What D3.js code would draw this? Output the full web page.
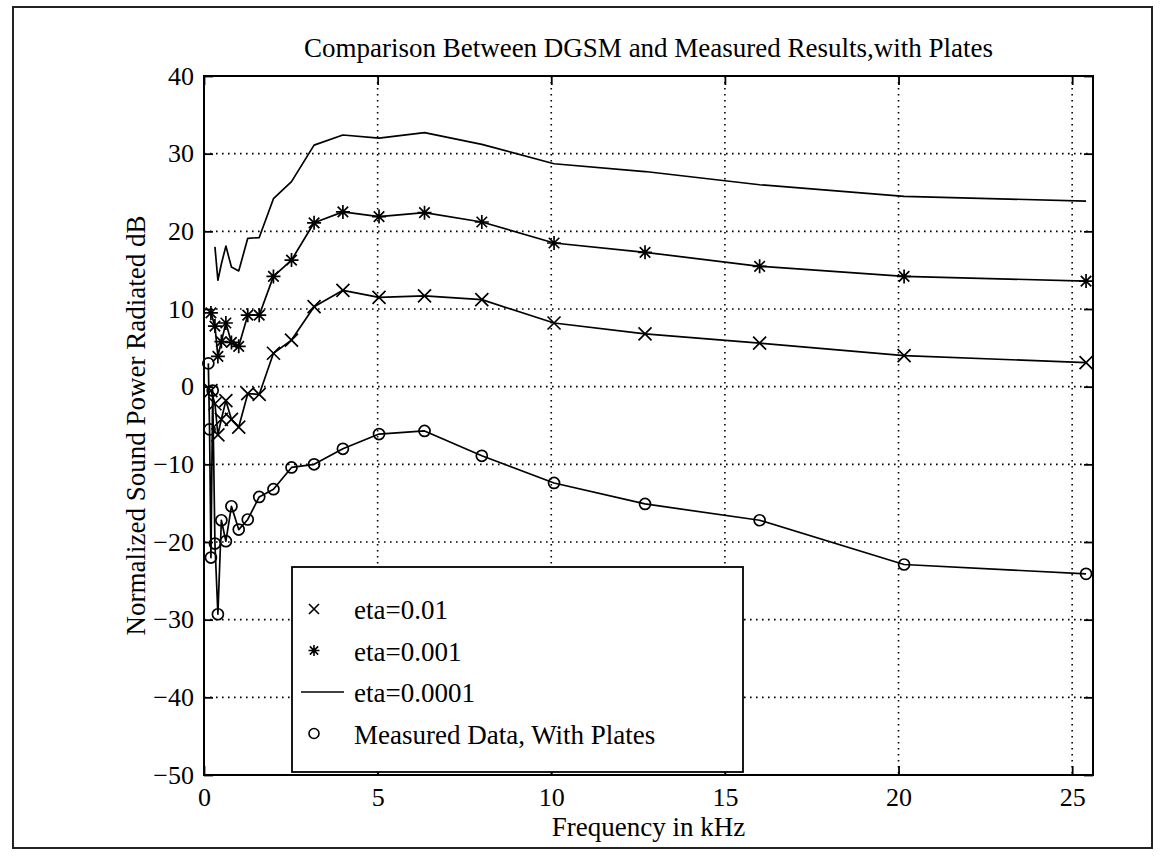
<!DOCTYPE html>
<html>
<head>
<meta charset="utf-8">
<script src="https://cdn.jsdelivr.net/npm/d3@7/dist/d3.min.js"></script>
<style>
  html, body { margin: 0; padding: 0; background: #fff; }
  svg { display: block; }
  text { font-family: "Liberation Serif", "Times New Roman", serif; fill: #000; }
</style>
</head>
<body>
<svg id="chart" width="1160" height="865"></svg>
<script>
// ---------------- data ----------------
const titleText = "Comparison Between DGSM and Measured Results,with Plates";
const xLabelText = "Frequency in kHz";
const yLabelText = "Normalized Sound Power Radiated  dB";

const xTicks = [0, 5, 10, 15, 20, 25];
const yTicks = [-50, -40, -30, -20, -10, 0, 10, 20, 30, 40];
const xDomain = [0, 25.6];
const yDomain = [-50, 40];

// model frequencies (kHz), third-octave bands
const modelFreq = [0.2, 0.315, 0.4, 0.5, 0.63, 0.79, 1.0, 1.26, 1.59, 2.0, 2.52, 3.17, 4.0, 5.04, 6.35, 8.0, 10.08, 12.7, 16.0, 20.16, 25.4];
const eta01   = [-0.5, -2.2, -6.2, -4.2, -1.8, -4.2, -5.2, -0.9, -1.0, 4.3, 6.0, 10.3, 12.4, 11.5, 11.7, 11.2, 8.2, 6.8, 5.6, 4.0, 3.1];
const eta001  = [9.5, 7.8, 3.9, 5.8, 8.2, 5.7, 5.2, 9.2, 9.2, 14.2, 16.3, 21.1, 22.5, 21.9, 22.4, 21.2, 18.5, 17.3, 15.5, 14.2, 13.6];
const eta0001 = [null, 18.0, 13.7, 15.8, 18.1, 15.4, 14.9, 19.1, 19.2, 24.2, 26.4, 31.1, 32.4, 32.0, 32.7, 31.2, 28.7, 27.7, 26.0, 24.5, 23.9];

// measured data
const measFreq = [0.125, 0.16, 0.2, 0.25, 0.315, 0.4, 0.5, 0.63, 0.79, 1.0, 1.26, 1.59, 2.0, 2.52, 3.17, 4.0, 5.04, 6.35, 8.0, 10.08, 12.7, 16.0, 20.16, 25.4];
const measured = [3.0, -5.5, -22.0, -0.5, -20.2, -29.3, -17.2, -19.9, -15.4, -18.4, -17.1, -14.2, -13.2, -10.4, -10.0, -8.0, -6.1, -5.7, -8.9, -12.4, -15.1, -17.2, -22.9, -24.1];

const legendLabels = ["eta=0.01", "eta=0.001", "eta=0.0001", "Measured Data, With Plates"];
const legendMarkers = ["x", "star", "line", "circle"];

// ---------------- layout ----------------
const svg = d3.select("#chart");
const plot = { left: 204, right: 1093, top: 76, bottom: 775 };

const x = d3.scaleLinear().domain(xDomain).range([plot.left, plot.right]);
const y = d3.scaleLinear().domain(yDomain).range([plot.bottom, plot.top]);

// outer figure frame
svg.append("rect")
  .attr("x", 13).attr("y", 7).attr("width", 1139).attr("height", 841)
  .attr("fill", "none").attr("stroke", "#222").attr("stroke-width", 2);

// grid
const grid = svg.append("g").attr("stroke", "#000").attr("stroke-width", 1.6)
  .attr("stroke-dasharray", "1.6,4.4");
grid.selectAll(".gx").data(xTicks.filter(t => t > xDomain[0] && t < xDomain[1]))
  .enter().append("line")
  .attr("x1", d => x(d)).attr("x2", d => x(d))
  .attr("y1", plot.top).attr("y2", plot.bottom);
grid.selectAll(".gy").data(yTicks.filter(t => t > yDomain[0] && t < yDomain[1]))
  .enter().append("line")
  .attr("x1", plot.left).attr("x2", plot.right)
  .attr("y1", d => y(d)).attr("y2", d => y(d));

// axes
const tickFont = 26;
const axB = svg.append("g").attr("transform", `translate(0,${plot.bottom})`)
  .call(d3.axisBottom(x).tickValues(xTicks).tickSizeInner(-9).tickSizeOuter(0).tickPadding(13)
    .tickFormat(d3.format("d")));
const axL = svg.append("g").attr("transform", `translate(${plot.left},0)`)
  .call(d3.axisLeft(y).tickValues(yTicks).tickSizeInner(-9).tickSizeOuter(0).tickPadding(10)
    .tickFormat(d => d < 0 ? "\u2212" + Math.abs(d) : String(d)));
const axT = svg.append("g").attr("transform", `translate(0,${plot.top})`)
  .call(d3.axisTop(x).tickValues(xTicks).tickSizeInner(-9).tickSizeOuter(0).tickFormat(""));
const axR = svg.append("g").attr("transform", `translate(${plot.right},0)`)
  .call(d3.axisRight(y).tickValues(yTicks).tickSizeInner(-9).tickSizeOuter(0).tickFormat(""));
[axB, axL, axT, axR].forEach(a => {
  a.select(".domain").remove();
  a.selectAll(".tick line").attr("stroke", "#000").attr("stroke-width", 1.8);
  a.selectAll(".tick text").style("font-family", "'Liberation Serif', 'Times New Roman', serif")
    .style("font-size", tickFont + "px").attr("fill", "#000");
});

// box
svg.append("rect")
  .attr("x", plot.left).attr("y", plot.top)
  .attr("width", plot.right - plot.left).attr("height", plot.bottom - plot.top)
  .attr("fill", "none").attr("stroke", "#000").attr("stroke-width", 2);

// marker path builders
function xPath(cx, cy, s) {
  return `M${cx - s},${cy - s}L${cx + s},${cy + s}M${cx - s},${cy + s}L${cx + s},${cy - s}`;
}
function starPath(cx, cy, s) {
  const d = s * 0.75;
  return `M${cx - s},${cy}L${cx + s},${cy}M${cx},${cy - s}L${cx},${cy + s}` +
         `M${cx - d},${cy - d}L${cx + d},${cy + d}M${cx - d},${cy + d}L${cx + d},${cy - d}`;
}

const lineGen = d3.line()
  .defined(d => d[1] !== null)
  .x(d => x(d[0])).y(d => y(d[1]));

const series = [
  { f: modelFreq, v: eta01, marker: "x" },
  { f: modelFreq, v: eta001, marker: "star" },
  { f: modelFreq, v: eta0001, marker: "line" },
  { f: measFreq, v: measured, marker: "circle" }
];

const dataG = svg.append("g");
series.forEach(s => {
  const pts = s.f.map((f, i) => [f, s.v[i]]);
  dataG.append("path").datum(pts)
    .attr("d", lineGen)
    .attr("fill", "none").attr("stroke", "#000").attr("stroke-width", 1.7)
    .attr("stroke-linejoin", "round");
  const valid = pts.filter(p => p[1] !== null);
  if (s.marker === "x") {
    dataG.selectAll(null).data(valid).enter().append("path")
      .attr("d", p => xPath(x(p[0]), y(p[1]), 6.5))
      .attr("stroke", "#000").attr("stroke-width", 1.7).attr("fill", "none");
  } else if (s.marker === "star") {
    dataG.selectAll(null).data(valid).enter().append("path")
      .attr("d", p => starPath(x(p[0]), y(p[1]), 7))
      .attr("stroke", "#000").attr("stroke-width", 1.7).attr("fill", "none");
  } else if (s.marker === "circle") {
    dataG.selectAll(null).data(valid).enter().append("circle")
      .attr("cx", p => x(p[0])).attr("cy", p => y(p[1])).attr("r", 5.5)
      .attr("stroke", "#000").attr("stroke-width", 1.7).attr("fill", "none");
  }
});

// legend
const leg = { x: 292, y: 567, w: 451, h: 205, rowY0: 609, rowDy: 41.5, symX: 314, lineX1: 301, lineX2: 344, textX: 354 };
svg.append("rect").attr("x", leg.x).attr("y", leg.y).attr("width", leg.w).attr("height", leg.h)
  .attr("fill", "#fff").attr("stroke", "#000").attr("stroke-width", 1.8);
legendLabels.forEach((lab, i) => {
  const cy = leg.rowY0 + i * leg.rowDy;
  const m = legendMarkers[i];
  if (m === "x") {
    svg.append("path").attr("d", xPath(leg.symX, cy, 5)).attr("stroke", "#000").attr("stroke-width", 1.6);
  } else if (m === "star") {
    svg.append("path").attr("d", starPath(leg.symX, cy, 5.5)).attr("stroke", "#000").attr("stroke-width", 1.6);
  } else if (m === "line") {
    svg.append("line").attr("x1", leg.lineX1).attr("x2", leg.lineX2)
      .attr("y1", cy).attr("y2", cy).attr("stroke", "#000").attr("stroke-width", 1.7);
  } else {
    svg.append("circle").attr("cx", leg.symX).attr("cy", cy).attr("r", 5)
      .attr("fill", "none").attr("stroke", "#000").attr("stroke-width", 1.6);
  }
  svg.append("text").attr("x", leg.textX).attr("y", cy + 10)
    .style("font-size", "27px").text(lab);
});

// title & labels
svg.append("text").attr("x", (plot.left + plot.right) / 2).attr("y", 57)
  .attr("text-anchor", "middle").style("font-size", "27px").text(titleText);
svg.append("text").attr("x", (plot.left + plot.right) / 2).attr("y", 836)
  .attr("text-anchor", "middle").style("font-size", "27px").text(xLabelText);
svg.append("text")
  .attr("transform", `translate(145,${(plot.top + plot.bottom) / 2}) rotate(-90)`)
  .attr("text-anchor", "middle").style("font-size", "27px").text(yLabelText);
</script>
</body>
</html>
